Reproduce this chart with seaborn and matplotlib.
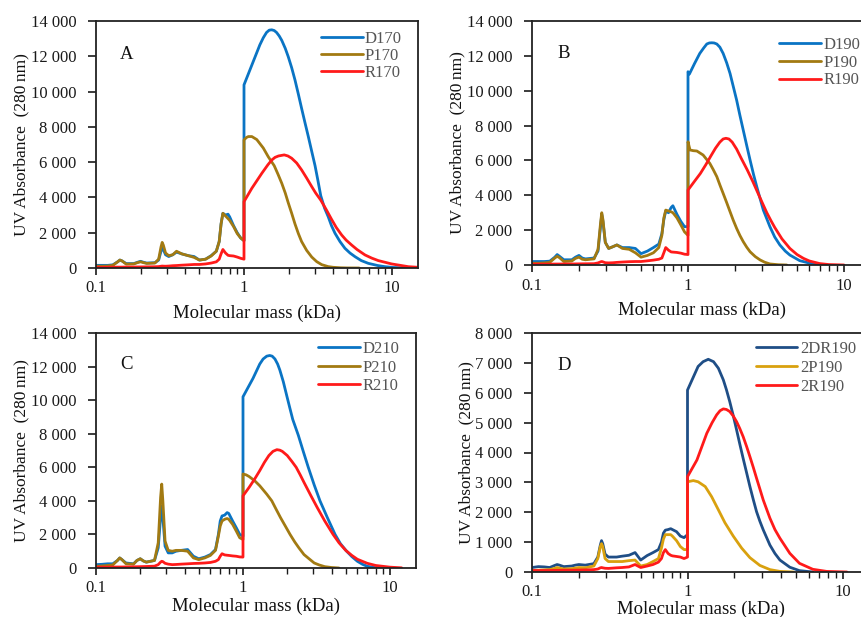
import numpy as np
import pandas as pd
import matplotlib
matplotlib.use("Agg")
import matplotlib.pyplot as plt
import matplotlib.ticker as mticker
import seaborn as sns

# ---------------- data: UV absorbance (280 nm) vs molecular mass (kDa) ----------------
# Shared low-mass grid (up to the 1 kDa cut-off)
low_x = [0.10, 0.11, 0.12, 0.13, 0.14, 0.145, 0.15, 0.16, 0.18, 0.19, 0.20, 0.21, 0.22,
         0.25, 0.265, 0.275, 0.28, 0.285, 0.295, 0.31, 0.33, 0.35, 0.38, 0.42, 0.46,
         0.50, 0.55, 0.60, 0.65, 0.68, 0.70, 0.72, 0.75, 0.78, 0.80, 0.85, 0.90, 0.95,
         1.00]

# Panel A
A_D170_low = [150, 150, 150, 180, 350, 450, 400, 250, 250, 320, 380, 320, 280,
              300, 450, 950, 1150, 1050, 750, 650, 750, 900, 800, 700, 650,
              450, 500, 700, 950, 1500, 2500, 3100, 3000, 3050, 2900, 2400, 2000, 1700,
              1550]
A_P170_low = [100, 100, 110, 150, 350, 450, 400, 220, 230, 300, 350, 300, 260,
              280, 500, 1200, 1450, 1300, 850, 700, 750, 950, 800, 700, 600,
              450, 500, 680, 950, 1500, 2500, 3100, 2950, 2800, 2700, 2350, 1950, 1700,
              1550]
A_R170_low = [40, 40, 40, 45, 50, 50, 50, 55, 55, 58, 60, 62, 65,
              70, 80, 100, 110, 105, 100, 110, 130, 140, 160, 180, 200,
              200, 230, 280, 350, 500, 800, 1050, 850, 720, 700, 680, 620, 550,
              500]
A_D170_hi_x = [1.00, 1.28, 1.35, 1.42, 1.48, 1.54, 1.60, 1.66, 1.73, 1.80, 1.90, 1.99,
               2.10, 2.21, 2.33, 2.45, 2.58, 2.72, 2.87, 3.02, 3.16, 3.30, 3.50, 3.71,
               3.90, 4.12, 4.45, 4.81, 5.20, 5.63, 6.20, 6.91, 8.00, 8.96, 10.2, 11.6,
               15.0]
A_D170_hi = [10380, 12650, 13050, 13350, 13480, 13500, 13460, 13350, 13150, 12900,
             12450, 11980, 11350, 10660, 9850, 9050, 8250, 7450, 6600, 5800, 4950,
             4100, 3400, 2900, 2400, 1970, 1500, 1115, 850, 640, 420, 265, 140, 75,
             30, 10, 0]
A_P170_hi_x = [1.00, 1.04, 1.07, 1.13, 1.22, 1.35, 1.46, 1.60, 1.70, 1.80, 1.90, 1.99,
               2.10, 2.21, 2.33, 2.45, 2.65, 2.87, 3.10, 3.35, 3.70, 4.00, 4.50, 5.00,
               6.00]
A_P170_hi = [7260, 7400, 7450, 7450, 7280, 6800, 6300, 5800, 5300, 4800, 4250, 3700,
             3100, 2500, 1950, 1500, 1000, 620, 360, 190, 80, 40, 12, 3, 0]
A_R170_hi_x = [1.00, 1.13, 1.32, 1.45, 1.54, 1.62, 1.71, 1.87, 1.98, 2.10, 2.27, 2.45,
               2.65, 2.87, 3.05, 3.30, 3.60, 3.91, 4.20, 4.57, 4.90, 5.34, 5.80, 6.57,
               7.30, 8.08, 9.95, 12.9, 15.0]
A_R170_hi = [3760, 4520, 5370, 5850, 6120, 6270, 6350, 6410, 6350, 6220, 5950, 5560,
             5100, 4610, 4250, 3850, 3300, 2750, 2300, 1870, 1580, 1300, 1050, 740,
             560, 420, 230, 75, 40]

# Panel B
B_D190_low = [200, 200, 200, 220, 450, 600, 500, 300, 300, 450, 550, 400, 350,
              400, 800, 2200, 2900, 2500, 1300, 950, 1050, 1150, 1000, 1000, 950,
              650, 800, 1000, 1200, 1800, 2600, 3100, 3000, 3300, 3400, 2900, 2500, 2200,
              2200]
B_P190_low = [100, 100, 120, 150, 400, 500, 420, 200, 230, 380, 450, 330, 300,
              350, 900, 2400, 3000, 2600, 1300, 950, 1050, 1150, 950, 900, 700,
              450, 550, 700, 1000, 1700, 2700, 3150, 3100, 3050, 3000, 2700, 2300, 1900,
              1700]
B_R190_low = [50, 50, 50, 50, 55, 55, 55, 60, 60, 62, 65, 68, 70,
              75, 120, 180, 200, 180, 130, 120, 130, 150, 170, 190, 200,
              200, 240, 280, 330, 400, 700, 1000, 850, 750, 740, 720, 680, 620,
              600]
B_D190_hi_x = [1.00, 1.02, 1.10, 1.19, 1.26, 1.32, 1.37, 1.42, 1.47, 1.53, 1.60, 1.68,
               1.77, 1.86, 1.95, 2.05, 2.15, 2.26, 2.38, 2.50, 2.63, 2.76, 2.90, 3.04,
               3.20, 3.35, 3.60, 3.88, 4.20, 4.50, 5.20, 6.30, 7.70]
B_D190_hi = [11090, 10950, 11550, 12140, 12450, 12680, 12740, 12750, 12740, 12680,
             12500, 12140, 11600, 10990, 10250, 9460, 8600, 7740, 6850, 6020, 5200,
             4490, 3800, 3150, 2650, 2200, 1600, 1150, 800, 570, 250, 60, 0]
B_P190_hi_x = [1.00, 1.03, 1.08, 1.14, 1.25, 1.38, 1.45, 1.53, 1.60, 1.68, 1.77, 1.86,
               1.95, 2.05, 2.15, 2.26, 2.38, 2.50, 2.70, 2.90, 3.10, 3.35, 3.80, 4.30]
B_P190_hi = [7070, 6600, 6560, 6540, 6310, 5830, 5480, 5070, 4600, 4110, 3580, 3060,
             2570, 2100, 1700, 1340, 1020, 760, 480, 290, 160, 60, 15, 0]
B_R190_hi_x = [1.00, 1.10, 1.20, 1.30, 1.40, 1.50, 1.60, 1.68, 1.75, 1.83, 1.92, 2.05,
               2.20, 2.40, 2.60, 2.80, 3.00, 3.20, 3.40, 3.60, 4.00, 4.50, 5.00, 5.50,
               6.00, 7.00, 8.00, 10.0]
B_R190_hi = [4300, 4800, 5250, 5750, 6250, 6700, 7050, 7230, 7270, 7230, 7050, 6650,
             6100, 5450, 4800, 4150, 3550, 3000, 2550, 2150, 1500, 950, 600, 380,
             230, 80, 25, 0]

# Panel C
C_D210_low = [200, 220, 250, 250, 450, 600, 500, 300, 250, 450, 550, 420, 350,
              450, 1200, 3000, 3700, 3000, 1300, 900, 900, 1000, 1050, 1100, 700,
              550, 650, 800, 1100, 2000, 2800, 3100, 3150, 3300, 3250, 2800, 2400, 2000,
              1900]
C_P210_low = [100, 120, 150, 180, 450, 600, 500, 250, 230, 450, 550, 420, 350,
              450, 1500, 4200, 5000, 4000, 1600, 1050, 1000, 1050, 1050, 1000, 600,
              500, 600, 750, 1050, 1900, 2500, 2800, 2900, 2950, 2900, 2600, 2200, 1800,
              1700]
C_R210_low = [50, 50, 50, 55, 60, 60, 60, 65, 70, 75, 80, 85, 90,
              110, 200, 350, 400, 380, 280, 230, 200, 210, 230, 250, 270,
              280, 300, 330, 400, 500, 700, 850, 780, 760, 750, 720, 700, 660,
              650]
C_D210_hi_x = [1.00, 1.17, 1.30, 1.37, 1.45, 1.52, 1.58, 1.65, 1.72, 1.78, 1.88, 1.98,
               2.08, 2.18, 2.38, 2.58, 2.78, 3.05, 3.34, 3.75, 4.23, 4.60, 5.07, 5.50,
               6.00, 6.50, 7.00, 8.00, 10.0]
C_D210_hi = [10200, 11300, 12150, 12450, 12620, 12660, 12620, 12450, 12150, 11800,
             11100, 10300, 9550, 8850, 7900, 6900, 6000, 4950, 4000, 3000, 2000, 1450,
             1000, 680, 400, 220, 100, 20, 0]
C_P210_hi_x = [1.00, 1.05, 1.10, 1.20, 1.30, 1.45, 1.57, 1.68, 1.80, 1.94, 2.09, 2.25,
               2.40, 2.60, 2.86, 3.05, 3.30, 3.60, 4.00, 4.50]
C_P210_hi = [5600, 5550, 5450, 5200, 4900, 4400, 4000, 3500, 3000, 2500, 2000, 1550,
             1200, 800, 500, 300, 180, 80, 30, 0]
C_R210_hi_x = [1.00, 1.10, 1.20, 1.30, 1.40, 1.50, 1.60, 1.70, 1.78, 1.85, 2.00, 2.15,
               2.30, 2.45, 2.60, 2.90, 3.20, 3.60, 4.10, 4.50, 5.00, 5.50, 6.00, 7.00,
               8.00, 10.0, 12.0]
C_R210_hi = [4300, 4800, 5300, 5800, 6300, 6700, 6950, 7050, 7020, 6950, 6700, 6350,
             6000, 5550, 5100, 4300, 3600, 2800, 2000, 1500, 1050, 750, 520, 280,
             150, 50, 10]

# Panel D
D_2DR190_low = [150, 180, 170, 150, 220, 250, 230, 180, 200, 230, 250, 240, 230,
                280, 500, 900, 1050, 950, 600, 500, 500, 500, 530, 560, 650,
                400, 550, 650, 750, 1000, 1300, 1400, 1420, 1450, 1420, 1350, 1200, 1150,
                1250]
D_2P190_low = [50, 60, 70, 80, 120, 150, 130, 100, 110, 130, 150, 145, 140,
               200, 450, 850, 950, 850, 450, 350, 350, 350, 350, 380, 400,
               200, 250, 350, 450, 800, 1100, 1250, 1250, 1250, 1200, 1050, 850, 750,
               750]
D_2R190_low = [50, 50, 50, 50, 55, 55, 55, 60, 60, 62, 65, 68, 70,
               80, 100, 140, 150, 140, 125, 120, 130, 140, 150, 170, 250,
               150, 200, 250, 330, 450, 650, 750, 620, 560, 540, 520, 500, 450,
               500]
D_2DR190_hi_x = [1.00, 1.17, 1.26, 1.36, 1.47, 1.58, 1.70, 1.78, 1.87, 1.97, 2.07,
                 2.17, 2.28, 2.40, 2.52, 2.65, 2.78, 2.92, 3.07, 3.39, 3.65, 3.93, 4.55,
                 5.25, 6.40]
D_2DR190_hi = [6090, 6880, 7040, 7120, 7040, 6820, 6430, 6100, 5700, 5230, 4750,
               4280, 3800, 3320, 2860, 2420, 2020, 1700, 1410, 900, 620, 400, 160,
               45, 0]
D_2P190_hi_x = [1.00, 1.09, 1.17, 1.30, 1.43, 1.58, 1.74, 1.97, 2.23, 2.52, 2.92,
                3.39, 3.93, 4.80]
D_2P190_hi = [3020, 3060, 3020, 2860, 2520, 2080, 1650, 1200, 800, 480, 220, 80, 20, 0]
D_2R190_hi_x = [1.00, 1.15, 1.33, 1.44, 1.54, 1.62, 1.70, 1.78, 1.87, 1.97, 2.07,
                2.17, 2.28, 2.40, 2.52, 2.65, 2.78, 2.92, 3.07, 3.39, 3.65, 3.93, 4.55,
                5.25, 6.40, 7.85, 10.6]
D_2R190_hi = [3190, 3750, 4640, 5000, 5260, 5400, 5460, 5440, 5370, 5220, 5030,
              4800, 4530, 4200, 3860, 3500, 3140, 2780, 2410, 1800, 1420, 1130, 625,
              290, 90, 20, 0]

panel_letters = ["A", "B", "C", "D"]
y_limits = [14000, 14000, 14000, 8000]
y_steps = [2000, 2000, 2000, 1000]

panels = [
    [("D170", A_D170_low, A_D170_hi_x, A_D170_hi),
     ("P170", A_P170_low, A_P170_hi_x, A_P170_hi),
     ("R170", A_R170_low, A_R170_hi_x, A_R170_hi)],
    [("D190", B_D190_low, B_D190_hi_x, B_D190_hi),
     ("P190", B_P190_low, B_P190_hi_x, B_P190_hi),
     ("R190", B_R190_low, B_R190_hi_x, B_R190_hi)],
    [("D210", C_D210_low, C_D210_hi_x, C_D210_hi),
     ("P210", C_P210_low, C_P210_hi_x, C_P210_hi),
     ("R210", C_R210_low, C_R210_hi_x, C_R210_hi)],
    [("2DR190", D_2DR190_low, D_2DR190_hi_x, D_2DR190_hi),
     ("2P190", D_2P190_low, D_2P190_hi_x, D_2P190_hi),
     ("2R190", D_2R190_low, D_2R190_hi_x, D_2R190_hi)],
]

colors_abc = ["#0A74C4", "#A27A12", "#FF1A1A"]
colors_d = ["#1F4E86", "#D9A10E", "#FF1A1A"]

# ---------------- style ----------------
sns.set_theme(style="white")
plt.rcParams["font.family"] = ["Liberation Serif", "DejaVu Serif"]
plt.rcParams["axes.linewidth"] = 1.3
plt.rcParams["lines.solid_joinstyle"] = "round"

W, H = 861, 617
fig = plt.figure(figsize=(W / 100, H / 100), dpi=100)

# axes boxes in pixels: left, top, bottom, pixels per decade
boxes = [(96, 21, 268, 148.0), (532, 21, 265, 156.0),
         (96, 333, 568, 147.0), (532, 333, 572, 155.5)]
# legend placement in pixels: right edge of text, top of first row, row spacing
legend_pos = [(402, 31, 0.06), (860, 37, 0.10), (399, 341, 0.15), (856, 341, 0.17)]
xlabel_pad = [6, 6, 0.5, 0.0]
XMIN, XMAX = 0.1, 15.0
n_dec = np.log10(XMAX / XMIN)


def thousands(v, pos):
    return f"{int(round(v)):,}".replace(",", " ")


for i, (left, top, bottom, dec) in enumerate(boxes):
    width = dec * n_dec
    height = bottom - top
    ax = fig.add_axes([left / W, 1 - bottom / H, width / W, height / H])
    cols = colors_d if i == 3 else colors_abc
    for (name, ylow, xhi, yhi), c in zip(panels[i], cols):
        df = pd.DataFrame({"mass": list(low_x) + list(xhi),
                           "absorbance": list(ylow) + list(yhi)})
        sns.lineplot(data=df, x="mass", y="absorbance", ax=ax, color=c,
                     lw=2.0, sort=False, estimator=None, label=name)
    ax.set_xscale("log")
    ax.set_xlim(XMIN, XMAX)
    ax.set_ylim(0, y_limits[i])
    ax.yaxis.set_major_locator(mticker.MultipleLocator(y_steps[i]))
    ax.yaxis.set_major_formatter(mticker.FuncFormatter(thousands))
    ax.xaxis.set_major_locator(mticker.FixedLocator([0.1, 1, 10]))
    ax.xaxis.set_major_formatter(mticker.FixedFormatter(["0.1", "1", "10"]))
    ax.xaxis.set_minor_locator(mticker.LogLocator(base=10, subs=np.arange(2, 10)))
    ax.xaxis.set_minor_formatter(mticker.NullFormatter())
    ax.tick_params(axis="y", which="major", direction="out", length=6, width=1.2,
                   labelsize=12, colors="#1a1a1a", left=True, pad=8)
    ax.tick_params(axis="x", which="major", direction="out", length=5, width=1.2,
                   labelsize=12, colors="#1a1a1a", bottom=True, pad=4)
    ax.tick_params(axis="x", which="minor", direction="out", length=4, width=1.0,
                   bottom=True, colors="#1a1a1a")
    for s in ax.spines.values():
        s.set_color("#222222")
        s.set_linewidth(1.3)
    ax.set_xlabel("Molecular mass (kDa)", fontsize=13.5, color="#111111",
                  labelpad=xlabel_pad[i])
    ax.set_ylabel("UV Absorbance  (280\u2009nm)", fontsize=12.5, color="#111111",
                  labelpad=1)
    ax.text(0.075, 0.865, panel_letters[i], transform=ax.transAxes, fontsize=13.5,
            color="#111111", ha="left", va="center")
    rx, ty, spacing = legend_pos[i]
    leg = ax.legend(loc="upper right",
                    bbox_to_anchor=((rx - left) / width, (bottom - ty) / height),
                    frameon=False, fontsize=12, handlelength=2.5,
                    handletextpad=0.15, labelspacing=spacing, borderaxespad=0.0,
                    borderpad=0.0)
    for t in leg.get_texts():
        t.set_color("#555555")

fig.savefig("out.png", dpi=100)
